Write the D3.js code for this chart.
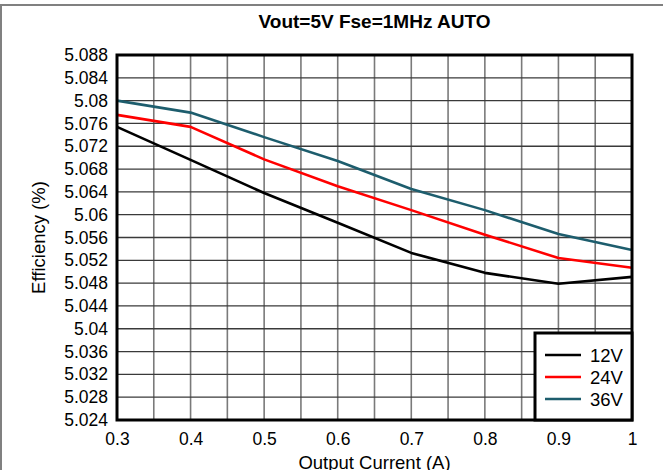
<!DOCTYPE html>
<html>
<head>
<meta charset="utf-8">
<script src="https://cdn.jsdelivr.net/npm/d3@7"></script>
<style>
  body { margin: 0; background: #fff; }
  svg { display: block; font-family: "Liberation Sans", Arial, sans-serif; }
</style>
</head>
<body>
<div id="chart"></div>
<script>
var current = [0.3, 0.4, 0.5, 0.6, 0.7, 0.8, 0.9, 1.0];

var eff12 = [5.0754, 5.0696, 5.0638, 5.0586, 5.0533, 5.0498, 5.0479, 5.0491];
var eff24 = [5.0775, 5.0754, 5.0697, 5.0650, 5.0608, 5.0565, 5.0524, 5.0507];
var eff36 = [5.0800, 5.0779, 5.0736, 5.0694, 5.0645, 5.0608, 5.0566, 5.0538];

var seriesNames = ["12V", "24V", "36V"];
var seriesColors = ["#000000", "#ff0000", "#1d5d6d"];

var xTicks = [0.3, 0.4, 0.5, 0.6, 0.7, 0.8, 0.9, 1];
var yTicks = [5.024, 5.028, 5.032, 5.036, 5.04, 5.044, 5.048, 5.052, 5.056,
              5.06, 5.064, 5.068, 5.072, 5.076, 5.08, 5.084, 5.088];

var drawChart = function() {
    var width = 663,
        height = 470,
        pLeft = 117, pRight = 632, pTop = 55, pBottom = 420,
        tickSize = 17.5,
        labelSize = 18.5;

    var svg = d3.select("#chart")
        .append("svg")
        .attr("width", width)
        .attr("height", height);

    /* outer frame (only top and left visible) */
    svg.append("line").attr("x1", 0).attr("x2", width).attr("y1", 5).attr("y2", 5)
        .attr("stroke", "#808080").attr("stroke-width", 2);
    svg.append("line").attr("x1", 1).attr("x2", 1).attr("y1", 5).attr("y2", height)
        .attr("stroke", "#808080").attr("stroke-width", 2);

    var x = d3.scaleLinear().domain([0.3, 1]).range([pLeft, pRight]);
    var y = d3.scaleLinear().domain([5.024, 5.088]).range([pBottom, pTop]);

    /* grid */
    var xGrid = d3.range(0, 15).map(function(i) { return 0.3 + i * 0.05; });

    svg.append("g")
        .selectAll("line")
        .data(xGrid)
        .enter().append("line")
            .attr("x1", function(d) { return x(d); })
            .attr("x2", function(d) { return x(d); })
            .attr("y1", pTop)
            .attr("y2", pBottom)
            .attr("stroke", "#7a7a7a")
            .attr("stroke-width", 1.6);

    svg.append("g")
        .selectAll("line")
        .data(yTicks)
        .enter().append("line")
            .attr("x1", pLeft)
            .attr("x2", pRight)
            .attr("y1", function(d) { return y(d); })
            .attr("y2", function(d) { return y(d); })
            .attr("stroke", "#3a3a3a")
            .attr("stroke-width", 1.3);

    /* axes labels */
    var yAxis = d3.axisLeft(y).tickValues(yTicks).tickSize(0).tickPadding(9)
        .tickFormat(function(d) { return String(+d.toFixed(3)); });
    var gy = svg.append("g").attr("transform", "translate(" + pLeft + ",0)").call(yAxis);
    gy.select(".domain").remove();
    gy.attr("font-size", tickSize).attr("font-family", null);
    gy.selectAll("text").attr("fill", "#000");

    var xAxis = d3.axisBottom(x).tickValues(xTicks).tickSize(0).tickPadding(13)
        .tickFormat(function(d) { return String(+d.toFixed(1)); });
    var gx = svg.append("g").attr("transform", "translate(0," + pBottom + ")").call(xAxis);
    gx.select(".domain").remove();
    gx.attr("font-size", tickSize).attr("font-family", null);
    gx.selectAll("text").attr("fill", "#000");

    /* lines */
    var data = [eff12, eff24, eff36];
    var line = d3.line()
        .x(function(d, i) { return x(current[i]); })
        .y(function(d) { return y(d); });

    svg.append("g")
        .selectAll("path")
        .data(data)
        .enter().append("path")
            .attr("d", line)
            .attr("fill", "none")
            .attr("stroke", function(d, i) { return seriesColors[i]; })
            .attr("stroke-width", 2.6)
            .attr("stroke-linejoin", "round");

    /* plot border */
    svg.append("rect")
        .attr("x", pLeft).attr("y", pTop)
        .attr("width", pRight - pLeft).attr("height", pBottom - pTop)
        .attr("fill", "none").attr("stroke", "#000").attr("stroke-width", 3);

    /* legend */
    var lg = svg.append("g").attr("class", "legend");
    lg.append("rect")
        .attr("x", 535).attr("y", 333)
        .attr("width", pRight - 535).attr("height", pBottom - 333)
        .attr("fill", "#fff").attr("stroke", "#000").attr("stroke-width", 3);

    var item = lg.selectAll("g")
        .data(seriesNames)
        .enter().append("g")
            .attr("transform", function(d, i) { return "translate(0," + (355 + i * 22) + ")"; });

    item.append("line")
        .attr("x1", 545).attr("x2", 581)
        .attr("y1", 0).attr("y2", 0)
        .attr("stroke", function(d, i) { return seriesColors[i]; })
        .attr("stroke-width", 2.6);

    item.append("text")
        .attr("x", 590).attr("y", 7)
        .attr("font-size", labelSize)
        .text(function(d) { return d; });

    /* titles */
    svg.append("text")
        .attr("x", (pLeft + pRight) / 2).attr("y", 28)
        .attr("text-anchor", "middle")
        .attr("font-size", 19).attr("font-weight", "bold")
        .text("Vout=5V Fse=1MHz AUTO");

    svg.append("text")
        .attr("x", (pLeft + pRight) / 2).attr("y", 469)
        .attr("text-anchor", "middle")
        .attr("font-size", labelSize)
        .text("Output Current (A)");

    svg.append("text")
        .attr("transform", "translate(45," + ((pTop + pBottom) / 2) + ") rotate(-90)")
        .attr("text-anchor", "middle")
        .attr("font-size", labelSize)
        .text("Efficiency (%)");
};

drawChart();
</script>
</body>
</html>
